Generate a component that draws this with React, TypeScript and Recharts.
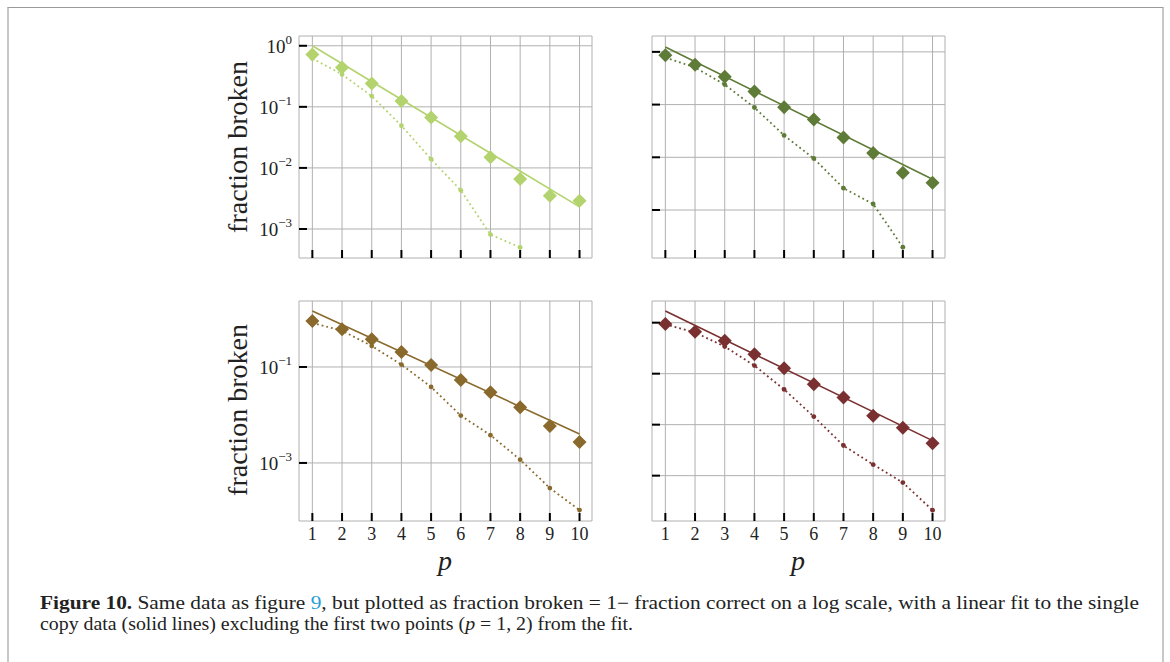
import React from 'react';
import { ComposedChart, Line, XAxis, YAxis, CartesianGrid, ReferenceArea } from 'recharts';

const FONT = "'Liberation Serif', 'Times New Roman', serif";

const pValues = [1, 2, 3, 4, 5, 6, 7, 8, 9, 10];

// top-left panel
const tlSingle = [0.72, 0.44, 0.24, 0.125, 0.067, 0.033, 0.015, 0.0066, 0.0035, 0.0029];
const tlMulti = [0.62, 0.34, 0.15, 0.049, 0.0139, 0.0043, 0.00081, 0.0005, null, null];
const tlFit = [1.0, null, null, null, null, null, null, null, null, 0.0023];
const tlYTicks = [1, 0.1, 0.01, 0.001];

// top-right panel
const trSingle = [0.865, 0.57, 0.336, 0.177, 0.089, 0.052, 0.0237, 0.0121, 0.0051, 0.0033];
const trMulti = [0.78, 0.505, 0.24, 0.088, 0.026, 0.0095, 0.0026, 0.0013, 0.000197, null];
const trFit = [1.24, null, null, null, null, null, null, null, null, 0.00384];
const trYTicks = [1, 0.1, 0.01, 0.001];

// bottom-left panel
const blSingle = [0.91, 0.61, 0.38, 0.205, 0.11, 0.0536, 0.0296, 0.0144, 0.0059, 0.00274];
const blMulti = [0.83, 0.57, 0.274, 0.112, 0.0383, 0.0097, 0.0038, 0.00117, 0.0003, 0.000104];
const blFit = [1.47, null, null, null, null, null, null, null, null, 0.00402];
const blYTicks = [0.1, 0.001];

// bottom-right panel
const brSingle = [0.943, 0.667, 0.444, 0.24, 0.128, 0.062, 0.0339, 0.015, 0.0087, 0.00432];
const brMulti = [0.93, 0.64, 0.34, 0.144, 0.049, 0.0144, 0.0039, 0.00165, 0.00073, 0.00021];
const brFit = [1.69, null, null, null, null, null, null, null, null, 0.00486];
const brYTicks = [1, 0.1, 0.01, 0.001];

const xDomain = [0.55, 10.42];

const panels = [
  { left: 220, top: 26, width: 382, height: 262, yw: 79, xh: 30, color: '#b3d36e', single: tlSingle, multi: tlMulti, fit: tlFit, yTicks: tlYTicks, yDomain: [3.35e-4, 1.445], yLabels: true, xLabels: false },
  { left: 600, top: 26, width: 355, height: 262, yw: 52, xh: 30, color: '#5e7b37', single: trSingle, multi: trMulti, fit: trFit, yTicks: trYTicks, yDomain: [1.23e-4, 2.0], yLabels: false, xLabels: false },
  { left: 220, top: 291, width: 382, height: 290, yw: 79, xh: 60, color: '#8a6a2c', single: blSingle, multi: blMulti, fit: blFit, yTicks: blYTicks, yDomain: [6.17e-5, 2.37], yLabels: true, xLabels: true },
  { left: 600, top: 291, width: 355, height: 290, yw: 52, xh: 60, color: '#7a3030', single: brSingle, multi: brMulti, fit: brFit, yTicks: brYTicks, yDomain: [1.29e-4, 2.66], yLabels: false, xLabels: true },
];

function XTick(props: any) {
  const { x, y, payload, showLabel } = props;
  return (
    <g>
      <line x1={x} x2={x} y1={y} y2={y - 8} stroke="#000" strokeWidth={2} />
      {showLabel && (
        <text x={x} y={y + 19} textAnchor="middle" fontFamily={FONT} fontSize={18} fill="#222">
          {payload.value}
        </text>
      )}
    </g>
  );
}

function YTick(props: any) {
  const { x, y, payload, showLabel } = props;
  const exp = Math.round(Math.log10(payload.value));
  const expText = exp < 0 ? '\u2212' + -exp : String(exp);
  return (
    <g>
      <line x1={x} x2={x + 8} y1={y} y2={y} stroke="#000" strokeWidth={2} />
      {showLabel && (
        <text x={x - 7} y={y + 7} textAnchor="end" fontFamily={FONT} fill="#222">
          <tspan fontSize={19}>10</tspan>
          <tspan fontSize={13} dy={-9}>{expText}</tspan>
        </text>
      )}
    </g>
  );
}

function Panel({ cfg }: { cfg: any }) {
  const data = pValues.map((p, i) => ({ p, single: cfg.single[i], multi: cfg.multi[i], fit: cfg.fit[i] }));
  const c = cfg.color;
  const diamond = (pr: any) => {
    const { cx, cy, index } = pr;
    if (cx == null || cy == null || isNaN(cy)) return <g key={'d' + index} />;
    const h = 7;
    return <path key={'d' + index} d={`M${cx},${cy - h}L${cx + h},${cy}L${cx},${cy + h}L${cx - h},${cy}Z`} fill={c} />;
  };
  const smallDot = (pr: any) => {
    const { cx, cy, index } = pr;
    if (cx == null || cy == null || isNaN(cy)) return <g key={'s' + index} />;
    return <circle key={'s' + index} cx={cx} cy={cy} r={2.4} fill={c} />;
  };
  return (
    <div style={{ position: 'absolute', left: cfg.left, top: cfg.top }}>
      <ComposedChart width={cfg.width} height={cfg.height} data={data} margin={{ top: 10, right: 10, bottom: 0, left: 0 }}>
        <CartesianGrid stroke="#b0b0b0" strokeWidth={1} />
        <XAxis
          dataKey="p"
          type="number"
          domain={xDomain}
          ticks={pValues}
          interval={0}
          allowDataOverflow
          axisLine={false}
          tickLine={false}
          tickSize={0}
          tickMargin={0}
          height={cfg.xh}
          tick={(pr: any) => <XTick {...pr} showLabel={cfg.xLabels} />}
        />
        <YAxis
          type="number"
          scale="log"
          domain={cfg.yDomain}
          ticks={cfg.yTicks}
          interval={0}
          allowDataOverflow
          axisLine={false}
          tickLine={false}
          tickSize={0}
          tickMargin={0}
          width={cfg.yw}
          tick={(pr: any) => <YTick {...pr} showLabel={cfg.yLabels} />}
        />
        <ReferenceArea fill="none" stroke="#000" strokeWidth={1.3} ifOverflow="visible" />
        <Line dataKey="fit" stroke={c} strokeWidth={1.6} dot={false} connectNulls isAnimationActive={false} />
        <Line dataKey="multi" stroke={c} strokeWidth={1.8} strokeDasharray="1.8 3" dot={smallDot} isAnimationActive={false} />
        <Line dataKey="single" stroke="none" dot={diamond} isAnimationActive={false} />
      </ComposedChart>
    </div>
  );
}

export default function App() {
  return (
    <div style={{ position: 'absolute', left: 0, top: 0, width: 1170, height: 662, background: '#fff', overflow: 'hidden' }}>
      <div
        style={{
          position: 'absolute',
          left: 7,
          top: 7,
          width: 1153,
          height: 700,
          borderLeft: '2px solid #c8c8c8',
          borderRight: '2px solid #c8c8c8',
          borderTop: '1px solid #9a9a9a',
        }}
      />
      {panels.map((cfg, i) => (
        <Panel key={i} cfg={cfg} />
      ))}
      <svg width={1170} height={662} style={{ position: 'absolute', left: 0, top: 0, pointerEvents: 'none' }}>
        <text x={237} y={147} transform="rotate(-90 237 147)" textAnchor="middle" dominantBaseline="central" fontFamily={FONT} fontSize={28} fill="#222">
          fraction broken
        </text>
        <text x={237} y={410} transform="rotate(-90 237 410)" textAnchor="middle" dominantBaseline="central" fontFamily={FONT} fontSize={28} fill="#222">
          fraction broken
        </text>
        <text x={445} y={570} textAnchor="middle" fontFamily={FONT} fontStyle="italic" fontSize={28} fill="#222">
          p
        </text>
        <text x={798} y={570} textAnchor="middle" fontFamily={FONT} fontStyle="italic" fontSize={28} fill="#222">
          p
        </text>
        <text x={40} y={609} fontFamily={FONT} fontSize={18} fill="#222" textLength={1099} lengthAdjust="spacingAndGlyphs">
          <tspan fontWeight="bold">Figure 10.</tspan>
          <tspan> Same data as figure </tspan>
          <tspan fill="#2a9fd6">9</tspan>
          <tspan>, but plotted as fraction broken = 1− fraction correct on a log scale, with a linear fit to the single</tspan>
        </text>
        <text x={40} y={630} fontFamily={FONT} fontSize={18} fill="#222" textLength={593} lengthAdjust="spacingAndGlyphs">
          <tspan>copy data (solid lines) excluding the first two points (</tspan>
          <tspan fontStyle="italic">p</tspan>
          <tspan> = 1, 2) from the fit.</tspan>
        </text>
      </svg>
    </div>
  );
}
